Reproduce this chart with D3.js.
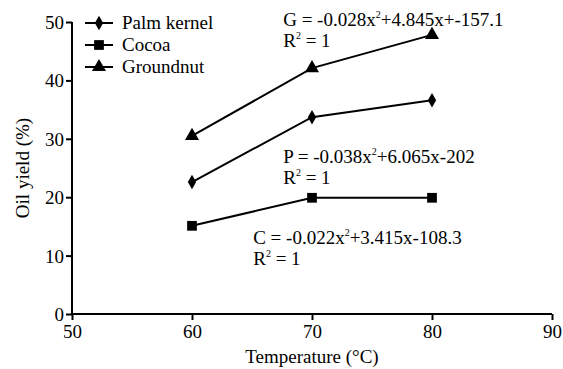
<!DOCTYPE html>
<html>

<head>
  <meta charset="UTF-8" />
  <title>Oil yield vs temperature</title>
  <script src="https://cdn.jsdelivr.net/npm/d3@7"></script>
  <style>
    body {
      margin: 0;
      background: #fff;
      font-family: 'Liberation Serif', 'Times New Roman', serif;
    }

    svg text {
      fill: #000;
      font-family: 'Liberation Serif', 'Times New Roman', serif;
    }
  </style>
</head>

<body>
  <svg></svg>
  <script>
    // data
    const temps = [60, 70, 80];
    const seriesNames = ['Palm kernel', 'Cocoa', 'Groundnut'];
    const palmKernel = [22.6, 33.7, 36.6];
    const cocoa = [15.1, 19.9, 19.9];
    const groundnut = [30.5, 42.1, 47.8];
    const xTicks = [50, 60, 70, 80, 90];
    const yTicks = [0, 10, 20, 30, 40, 50];
    const equations = [
      { pre: 'G  = -0.028x', post: '+4.845x+-157.1', x: 67.6, y: 49.3 },
      { pre: 'P  = -0.038x', post: '+6.065x-202', x: 67.6, y: 25.9 },
      { pre: 'C = -0.022x', post: '+3.415x-108.3', x: 65.1, y: 12 }
    ];

    const width = 563,
      height = 369;
    const fs = 19;
    const svg = d3.select('svg').attr('width', width).attr('height', height);

    const x = d3.scaleLinear().domain([50, 90]).range([72, 552]);
    const y = d3.scaleLinear().domain([0, 50]).range([314, 22]);

    // axes
    const xAxis = svg.append('g')
      .attr('transform', 'translate(0,' + y(0) + ')')
      .call(d3.axisBottom(x).tickValues(xTicks).tickSize(6).tickPadding(5).tickFormat(d3.format('d')));
    const yAxis = svg.append('g')
      .attr('transform', 'translate(' + x(50) + ',0)')
      .call(d3.axisLeft(y).tickValues(yTicks).tickSize(6).tickPadding(2).tickFormat(d3.format('d')));

    [xAxis, yAxis].forEach(a => {
      a.attr('font-family', null);
      a.select('.domain').attr('stroke', '#000').attr('stroke-width', 2);
      a.selectAll('.tick line').attr('stroke', '#000').attr('stroke-width', 2);
      a.selectAll('.tick text')
        .attr('font-size', fs)
        .attr('fill', '#000');
    });
    xAxis.select('.domain').attr('d', 'M' + x(50) + ',0H' + x(90));
    yAxis.select('.domain').attr('d', 'M0,' + y(50) + 'V' + y(0));
    yAxis.selectAll('.tick text').attr('dy', '0.34em');

    svg.append('text')
      .attr('x', x(70))
      .attr('y', 363)
      .attr('text-anchor', 'middle')
      .attr('font-size', fs)
      .text('Temperature (°C)');

    svg.append('text')
      .attr('transform', 'translate(29,' + y(25) + ') rotate(-90)')
      .attr('text-anchor', 'middle')
      .attr('font-size', fs)
      .text('Oil yield (%)');

    // series
    const symbols = [d3.symbolDiamond, d3.symbolSquare, d3.symbolTriangle];
    const sizes = [60, 95, 85];
    const allSeries = [palmKernel, cocoa, groundnut];

    const line = d3.line()
      .x((d, i) => x(temps[i]))
      .y(d => y(d));

    allSeries.forEach((vals, s) => {
      svg.append('path')
        .datum(vals)
        .attr('d', line)
        .attr('fill', 'none')
        .attr('stroke', '#000')
        .attr('stroke-width', 2);

      svg.append('g')
        .selectAll('path')
        .data(vals)
        .enter()
        .append('path')
        .attr('transform', (d, i) => 'translate(' + x(temps[i]) + ',' + y(d) + ')')
        .attr('d', d3.symbol().type(symbols[s]).size(sizes[s]))
        .attr('fill', '#000');
    });

    // legend
    const legend = svg.append('g').attr('transform', 'translate(85,23)');
    seriesNames.forEach((name, i) => {
      const row = legend.append('g').attr('transform', 'translate(0,' + i * 22 + ')');
      row.append('line')
        .attr('x1', 0).attr('x2', 28)
        .attr('stroke', '#000').attr('stroke-width', 2);
      row.append('path')
        .attr('transform', 'translate(14,0)')
        .attr('d', d3.symbol().type(symbols[i]).size(sizes[i]))
        .attr('fill', '#000');
      row.append('text')
        .attr('x', 37)
        .attr('dy', '0.33em')
        .attr('font-size', fs)
        .text(name);
    });

    // fitted equations
    equations.forEach(eq => {
      const t = svg.append('text')
        .attr('x', x(eq.x))
        .attr('y', y(eq.y))
        .attr('font-size', fs);
      t.append('tspan').text(eq.pre);
      t.append('tspan').attr('font-size', 10).attr('dy', -8).text('2');
      t.append('tspan').attr('dy', 8).text(eq.post);

      const r = svg.append('text')
        .attr('x', x(eq.x))
        .attr('y', y(eq.y) + 21)
        .attr('font-size', fs);
      r.append('tspan').text('R');
      r.append('tspan').attr('font-size', 10).attr('dy', -8).text('2');
      r.append('tspan').attr('dy', 8).text(' = 1');
    });
  </script>
</body>

</html>
